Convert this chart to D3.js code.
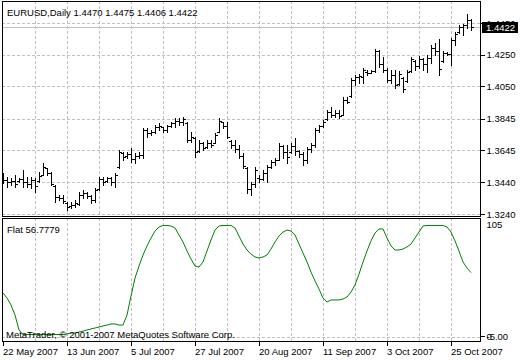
<!DOCTYPE html>
<html><head><meta charset="utf-8">
<script src="https://cdn.jsdelivr.net/npm/d3@7"></script>
<style>
body{margin:0;background:#fff}
svg{display:block}
text{font-family:"Liberation Sans",Arial,sans-serif;font-size:9.5px;fill:#000}
</style>
</head><body>
<svg id="c" width="520" height="360"></svg>
<script>
// ---------------- data ----------------
const symbolTitle = "EURUSD,Daily";
const lastBarText = ["1.4470","1.4475","1.4406","1.4422"];
const indicatorName = "Flat";
const indicatorLastText = "56.7779";
const lastPrice = 1.4422;
const copyright = "MetaTrader, © 2001-2007 MetaQuotes Software Corp.";

const opens = [
1.3470,1.3455,1.3440,1.3450,1.3452,1.3460,1.3445,1.3430,1.3455,1.3450,
1.3490,1.3530,1.3500,1.3420,1.3345,1.3340,1.3310,1.3290,1.3300,1.3305,
1.3360,1.3370,1.3355,1.3330,1.3400,1.3460,1.3450,1.3465,1.3445,1.3535,
1.3625,1.3605,1.3620,1.3590,1.3610,1.3615,1.3770,1.3750,1.3760,1.3790,
1.3790,1.3775,1.3800,1.3815,1.3830,1.3820,1.3815,1.3710,1.3720,1.3640,
1.3690,1.3665,1.3690,1.3690,1.3760,1.3820,1.3800,1.3700,1.3675,1.3650,
1.3610,1.3530,1.3400,1.3430,1.3470,1.3460,1.3500,1.3540,1.3570,1.3585,
1.3670,1.3630,1.3630,1.3670,1.3640,1.3620,1.3580,1.3650,1.3680,1.3770,
1.3795,1.3840,1.3885,1.3870,1.3880,1.3870,1.3965,1.3985,1.4090,1.4105,
1.4110,1.4140,1.4135,1.4145,1.4270,1.4190,1.4150,1.4090,1.4120,1.4065,
1.4100,1.4080,1.4145,1.4210,1.4180,1.4220,1.4190,1.4230,1.4290,1.4270,
1.4210,1.4260,1.4255,1.4340,1.4390,1.4425,1.4440,1.4470];
const highs = [
1.3500,1.3474,1.3468,1.3487,1.3468,1.3519,1.3474,1.3474,1.3468,1.3506,
1.3563,1.3531,1.3506,1.3424,1.3360,1.3360,1.3316,1.3316,1.3329,1.3379,
1.3392,1.3379,1.3360,1.3405,1.3474,1.3474,1.3474,1.3474,1.3500,1.3645,
1.3633,1.3633,1.3658,1.3626,1.3633,1.3785,1.3785,1.3772,1.3804,1.3817,
1.3791,1.3804,1.3823,1.3848,1.3848,1.3855,1.3823,1.3760,1.3728,1.3709,
1.3696,1.3709,1.3709,1.3753,1.3848,1.3823,1.3823,1.3709,1.3709,1.3677,
1.3626,1.3538,1.3443,1.3538,1.3487,1.3519,1.3550,1.3582,1.3595,1.3690,
1.3677,1.3677,1.3690,1.3721,1.3645,1.3633,1.3664,1.3690,1.3785,1.3804,
1.3836,1.3899,1.3918,1.3899,1.3899,1.3981,1.3981,1.4102,1.4121,1.4127,
1.4165,1.4152,1.4152,1.4285,1.4279,1.4235,1.4165,1.4152,1.4152,1.4146,
1.4108,1.4152,1.4235,1.4216,1.4241,1.4228,1.4247,1.4311,1.4323,1.4349,
1.4273,1.4266,1.4355,1.4393,1.4437,1.4444,1.4507,1.4475];
const lows = [
1.3436,1.3411,1.3424,1.3411,1.3443,1.3411,1.3411,1.3405,1.3379,1.3443,
1.3487,1.3487,1.3424,1.3316,1.3329,1.3310,1.3265,1.3278,1.3284,1.3297,
1.3341,1.3341,1.3310,1.3316,1.3392,1.3424,1.3443,1.3424,1.3411,1.3531,
1.3582,1.3595,1.3569,1.3563,1.3595,1.3595,1.3728,1.3740,1.3753,1.3772,
1.3760,1.3760,1.3791,1.3791,1.3804,1.3804,1.3696,1.3696,1.3601,1.3633,
1.3645,1.3658,1.3664,1.3690,1.3760,1.3785,1.3721,1.3658,1.3633,1.3595,
1.3531,1.3373,1.3360,1.3411,1.3443,1.3455,1.3443,1.3531,1.3550,1.3582,
1.3595,1.3563,1.3626,1.3614,1.3601,1.3550,1.3563,1.3633,1.3664,1.3760,
1.3791,1.3836,1.3855,1.3855,1.3848,1.3867,1.3943,1.3981,1.4057,1.4070,
1.4070,1.4121,1.4133,1.4140,1.4171,1.4140,1.4076,1.4070,1.4038,1.4057,
1.4013,1.4076,1.4140,1.4152,1.4165,1.4152,1.4140,1.4197,1.4247,1.4121,
1.4203,1.4247,1.4184,1.4311,1.4387,1.4374,1.4418,1.4406];
const closes = [
1.3455,1.3440,1.3450,1.3430,1.3460,1.3445,1.3430,1.3455,1.3420,1.3480,
1.3540,1.3500,1.3430,1.3345,1.3340,1.3320,1.3285,1.3300,1.3310,1.3360,
1.3370,1.3355,1.3330,1.3395,1.3460,1.3440,1.3465,1.3445,1.3490,1.3630,
1.3600,1.3620,1.3590,1.3610,1.3615,1.3770,1.3750,1.3760,1.3790,1.3800,
1.3775,1.3795,1.3815,1.3830,1.3820,1.3840,1.3710,1.3730,1.3630,1.3690,
1.3660,1.3690,1.3680,1.3740,1.3830,1.3800,1.3730,1.3675,1.3650,1.3610,
1.3545,1.3400,1.3430,1.3520,1.3460,1.3500,1.3535,1.3570,1.3585,1.3670,
1.3630,1.3600,1.3670,1.3640,1.3620,1.3580,1.3650,1.3680,1.3770,1.3795,
1.3825,1.3885,1.3870,1.3880,1.3860,1.3965,1.3950,1.4090,1.4105,1.4115,
1.4150,1.4135,1.4145,1.4270,1.4190,1.4150,1.4090,1.4120,1.4060,1.4130,
1.4030,1.4140,1.4220,1.4180,1.4220,1.4190,1.4230,1.4290,1.4270,1.4160,
1.4260,1.4255,1.4340,1.4380,1.4425,1.4440,1.4470,1.4422];
const flatValues = [
38.1,33.5,27.1,17.9,4.2,0,0,0,0,0,
0,0,0,0,0,0,0.5,1.4,1.4,2.3,
3.2,4.2,5.1,6.0,6.9,7.8,8.7,9.7,9.7,8.7,
8.7,17.9,35.3,51.8,62.8,72.9,81.2,88.5,94.9,98.6,
100,100,99.5,97.7,91.3,84.8,76.6,69.2,62.8,61.9,
66.5,76.6,86.7,95.8,99.5,100,100,100,97.7,90.3,
83.0,77.5,73.8,71.1,70.2,71.1,72.9,78.4,84.8,90.3,
94.0,95.8,94.9,91.3,83.0,74.7,66.5,57.3,49.1,41.7,
33.5,29.8,31.7,31.7,31.7,32.6,34.4,39.0,45.4,55.5,
66.5,76.6,85.8,93.1,96.8,96.8,88.5,81.2,77.5,77.5,
78.4,80.3,83.0,88.5,94.0,99.5,100,100,100,100,
100,98.6,94.0,85.8,76.6,66.5,61.0,56.78];

const dateTickIndex = [0,16,32,48,64,80,96,112];
const dateTickLabels = ["22 May 2007","13 Jun 2007","5 Jul 2007","27 Jul 2007","20 Aug 2007","11 Sep 2007","3 Oct 2007","25 Oct 2007"];
const gridBarIndex = [8,16,24,32,40,48,56,64,72,80,88,96,104,112];
const priceTicks = [1.4450,1.4250,1.4050,1.3845,1.3645,1.3440,1.3240];
const priceTickLabels = ["1.4450","1.4250","1.4050","1.3845","1.3645","1.3440","1.3240"];
const flatTicks = [105,0,-5];
const flatTickLabels = ["105","0","-5.00"];

// ---------------- layout ----------------
const svg = d3.select("#c");
const left = 2, right = 480;
const mainTop = 1, mainBottom = 216;
const subTop = 218, subBottom = 341;
const gridColor = "#c0c0c0";

const n = closes.length;
const x = d3.scaleLinear().domain([0, n - 1]).range([3, 471]);
const yP = d3.scaleLinear().domain([1.3240, 1.4450]).range([214, 23]);
const yF = d3.scaleLinear().domain([-5, 105]).range([340, 220]);

svg.append("rect").attr("width",520).attr("height",360).attr("fill","#fff");

const defs = svg.append("defs");
defs.append("clipPath").attr("id","mainClip").append("rect")
  .attr("x",left+1).attr("y",mainTop+1).attr("width",right-left-1).attr("height",mainBottom-mainTop-1);
defs.append("clipPath").attr("id","subClip").append("rect")
  .attr("x",left+1).attr("y",subTop+1).attr("width",right-left-1).attr("height",subBottom-subTop-1);

// grids
const grid = svg.append("g").attr("stroke",gridColor).attr("stroke-width",1)
  .attr("stroke-dasharray","3,2").attr("shape-rendering","crispEdges");
grid.selectAll("line.vm").data(gridBarIndex).join("line")
  .attr("x1",d=>Math.round(x(d))+0.5).attr("x2",d=>Math.round(x(d))+0.5)
  .attr("y1",mainTop).attr("y2",mainBottom);
grid.selectAll("line.vs").data(gridBarIndex).join("line").attr("class","vs")
  .attr("x1",d=>Math.round(x(d))+0.5).attr("x2",d=>Math.round(x(d))+0.5)
  .attr("y1",subTop).attr("y2",subBottom);
grid.selectAll("line.hm").data(priceTicks).join("line").attr("class","hm")
  .attr("x1",left).attr("x2",right)
  .attr("y1",d=>Math.round(yP(d))+0.5).attr("y2",d=>Math.round(yP(d))+0.5);
grid.append("line").attr("x1",left).attr("x2",right)
  .attr("y1",Math.round(yF(0))+2.5).attr("y2",Math.round(yF(0))+2.5);

// last price line
svg.append("line").attr("x1",left).attr("x2",right)
  .attr("y1",Math.round(yP(lastPrice))+0.5).attr("y2",Math.round(yP(lastPrice))+0.5)
  .attr("stroke","#c0c0c0").attr("shape-rendering","crispEdges");

// OHLC bars
const bars = svg.append("g").attr("clip-path","url(#mainClip)")
  .attr("stroke","#000").attr("stroke-width",1).attr("fill","none")
  .attr("shape-rendering","crispEdges");
bars.selectAll("path").data(d3.range(n)).join("path")
  .attr("d", i => {
    const c = Math.round(x(i));
    const h = Math.round(yP(highs[i])), l = Math.round(yP(lows[i]));
    const o = Math.round(yP(opens[i])), cl = Math.round(yP(closes[i]));
    return `M${c+0.5},${h}V${l+1}M${c-2},${o+0.5}H${c}M${c+1},${cl+0.5}H${c+3}`;
  });

// indicator line
const line = d3.line().x((d,i)=>x(i)).y(d=>yF(d));
svg.append("path").attr("clip-path","url(#subClip)")
  .datum(flatValues).attr("d",line)
  .attr("fill","none").attr("stroke","#008000").attr("stroke-width",1);

// panel borders
svg.append("rect").attr("x",left+0.5).attr("y",mainTop+0.5)
  .attr("width",right-left).attr("height",mainBottom-mainTop)
  .attr("fill","none").attr("stroke","#000").attr("shape-rendering","crispEdges");
svg.append("rect").attr("x",left+0.5).attr("y",subTop+0.5)
  .attr("width",right-left).attr("height",subBottom-subTop)
  .attr("fill","none").attr("stroke","#000").attr("shape-rendering","crispEdges");

// right price axis
const pAxis = svg.append("g").attr("transform",`translate(${right+0.5},0)`)
  .call(d3.axisRight(yP).tickValues(priceTicks).tickFormat((d,i)=>priceTickLabels[i]).tickSize(4).tickPadding(2));
pAxis.select(".domain").remove();
pAxis.selectAll("line").attr("stroke","#000").attr("shape-rendering","crispEdges");
pAxis.selectAll("text").attr("font-family",null).attr("font-size",null).attr("fill","#000");

// indicator axis
const fAxis = svg.append("g").attr("transform",`translate(${right+0.5},0)`)
  .call(d3.axisRight(yF).tickValues(flatTicks).tickFormat((d,i)=>flatTickLabels[i]).tickSize(4).tickPadding(2));
fAxis.select(".domain").remove();
fAxis.selectAll("line").attr("stroke","#000").attr("shape-rendering","crispEdges");
fAxis.selectAll(".tick").filter(d=>d===105).select("line").remove();
fAxis.selectAll(".tick").filter(d=>d===105).attr("transform",`translate(0,${yF(105)+5})`);
fAxis.selectAll(".tick").filter(d=>d!==105).attr("transform",`translate(0,${yF(0)+2})`);
fAxis.selectAll("text").attr("font-family",null).attr("font-size",null).attr("fill","#000");

// last price box
const lp = Math.round(yP(lastPrice));
svg.append("rect").attr("x",right+2).attr("y",lp-5).attr("width",36).attr("height",11).attr("fill","#000");
svg.append("text").attr("x",right+6).attr("y",lp+4).attr("fill","#fff").style("fill","#fff").text(lastBarText[3]);

// date axis
const dAxis = svg.append("g").attr("transform",`translate(0,${subBottom+0.5})`)
  .call(d3.axisBottom(x).tickValues(dateTickIndex).tickFormat((d,i)=>dateTickLabels[i]).tickSize(4).tickPadding(3));
dAxis.select(".domain").remove();
dAxis.selectAll(".tick").attr("transform",d=>`translate(${Math.round(x(d))+0.5},0)`);
dAxis.selectAll("line").attr("stroke","#000").attr("shape-rendering","crispEdges");
dAxis.selectAll("text").attr("font-family",null).attr("font-size",null).attr("fill","#000")
  .attr("text-anchor","start").attr("x",-0.5).attr("dy","0.71em");

// texts
svg.append("text").attr("x",7).attr("y",16)
  .text(symbolTitle + "  " + lastBarText.join(" "));
svg.append("text").attr("x",7).attr("y",233).text(indicatorName + " " + indicatorLastText);
svg.append("text").attr("x",6).attr("y",338).attr("fill","#000").text(copyright);
</script>
</body></html>
